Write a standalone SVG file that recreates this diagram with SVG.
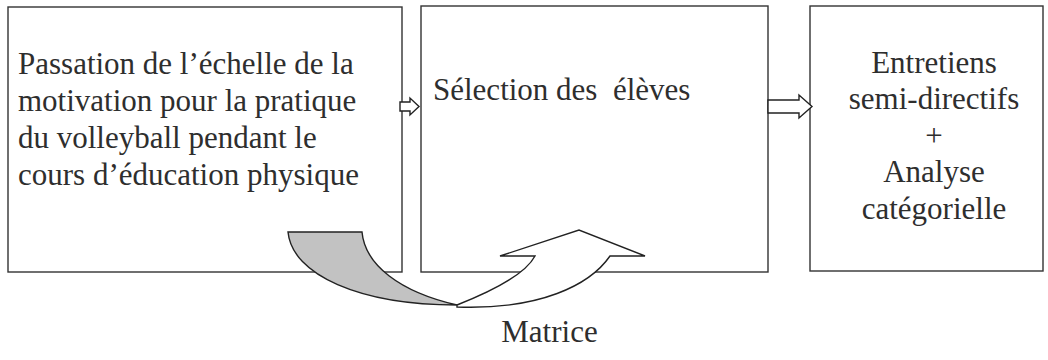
<svg xmlns="http://www.w3.org/2000/svg" width="1048" height="360" viewBox="0 0 1048 360">
<style>
.box{fill:#ffffff;stroke:#333333;stroke-width:1.4}
.t{font-family:"Liberation Serif","Times New Roman",serif;font-size:31px;fill:#2e2e2e}
.c{text-anchor:middle}
.arr{fill:#ffffff;stroke:#222222;stroke-width:1.4;stroke-linejoin:miter}
.shade{fill:#c2c2c2;stroke:#222222;stroke-width:1.4}
</style>
<rect width="1048" height="360" fill="#ffffff"/>
<g id="node-passation">
<rect class="box" x="8" y="7" width="394" height="265"/>
<text class="t" x="18" y="74">Passation de l’échelle de la</text>
<text class="t" x="18" y="111">motivation pour la pratique</text>
<text class="t" x="18" y="148">du volleyball pendant le</text>
<text class="t" x="18" y="185">cours d’éducation physique</text>
</g>
<g id="node-selection">
<rect class="box" x="421" y="6" width="347" height="266"/>
<text class="t" x="433" y="100" xml:space="preserve">Sélection des  élèves</text>
</g>
<g id="node-entretiens">
<rect class="box" x="810" y="6" width="233" height="265"/>
<text class="t c" x="934" y="73">Entretiens</text>
<text class="t c" x="934" y="109">semi-directifs</text>
<text class="t c" x="934" y="145.5">+</text>
<text class="t c" x="934" y="182">Analyse</text>
<text class="t c" x="934" y="218.5">catégorielle</text>
</g>
<g id="connectors">
<path class="arr" d="M400,102 L410,102 L410,98 L419,106.5 L410,115 L410,111 L400,111 Z"/>
<path class="arr" d="M768,100 L799,100 L799,95 L812,106.5 L799,118 L799,113 L768,113 Z"/>
<path class="shade" d="M288,232 L362,232 C365,265 400,292 457,305 C360,305 292,275 288,232 Z"/>
<path class="arr" d="M457,305 C490,292 525,275 535,256 L500,256 L579,230 L645,256 L610,256 C590,285 540,310 457,307 Z"/>
</g>
<g id="label-matrice">
<text class="t c" x="549.5" y="342">Matrice</text>
</g>
</svg>
